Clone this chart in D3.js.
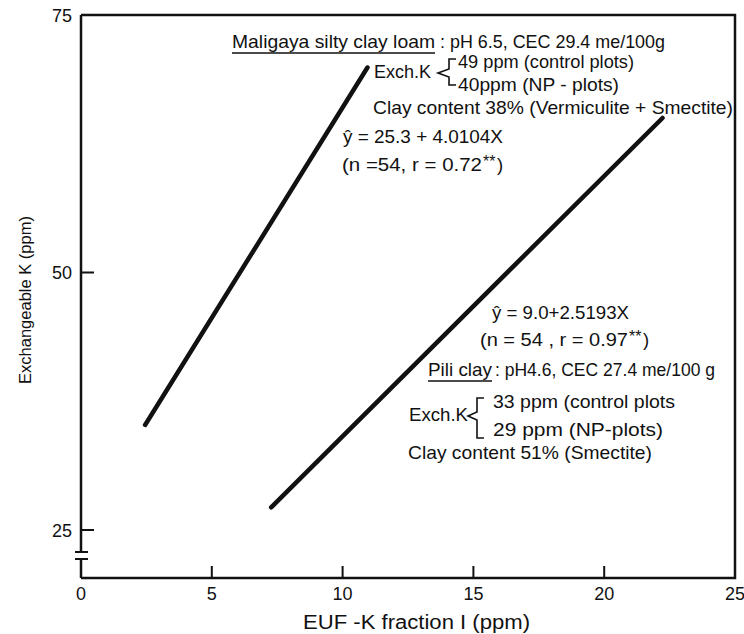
<!DOCTYPE html>
<html><head><meta charset="utf-8">
<script src="https://cdn.jsdelivr.net/npm/d3@7"></script>
<style>body{margin:0;background:#fff}text{font-family:"Liberation Sans",Arial,sans-serif;fill:#111}</style>
</head><body><svg id="c" width="744" height="634"></svg>
<script>
// Data
const xTicks = [0, 5, 10, 15, 20, 25];
const yTicks = [25, 50, 75];
const maligaya = [[2.45, 35.2], [10.95, 69.9]];
const pili = [[7.27, 27.2], [22.23, 65.0]];
const xLabel = "EUF -K fraction I (ppm)";
const yLabel = "Exchangeable K (ppm)";

const svg = d3.select("#c");
const x = d3.scaleLinear().domain([0, 25]).range([81, 735]);
const y = d3.scaleLinear().domain([25, 75]).range([530, 15]);
const yBottom = 578, yTop = 15;

const g = svg.append("g");
// frame (top, right, bottom)
g.append("path").attr("d", `M${x(0)},${yTop}H${x(25)}V${yBottom}H${x(0)}`)
  .attr("fill", "none").attr("stroke", "#111").attr("stroke-width", 2.5);
// y axis with break
g.append("path").attr("d", `M${x(0)},${yTop}V552M${x(0)},559V${yBottom}`)
  .attr("fill", "none").attr("stroke", "#111").attr("stroke-width", 2.5);
g.append("path").attr("d", `M75,552H88M75,559H88`).attr("stroke", "#111").attr("stroke-width", 2);

// y ticks (inward)
g.selectAll(".yt").data(yTicks.filter(d => d < 75)).join("line")
  .attr("x1", x(0)).attr("x2", x(0) + 13).attr("y1", d => y(d)).attr("y2", d => y(d))
  .attr("stroke", "#111").attr("stroke-width", 2);
g.selectAll(".yl").data(yTicks).join("text")
  .attr("x", 72).attr("y", d => y(d) + 6.5).attr("text-anchor", "end")
  .attr("font-size", 18).text(d => d);
// x ticks (inward)
g.selectAll(".xt").data(xTicks.filter(d => d > 0 && d < 25)).join("line")
  .attr("x1", d => x(d)).attr("x2", d => x(d)).attr("y1", yBottom).attr("y2", yBottom - 12)
  .attr("stroke", "#111").attr("stroke-width", 2);
g.selectAll(".xl").data(xTicks).join("text")
  .attr("x", d => x(d)).attr("y", 599.5).attr("text-anchor", "middle")
  .attr("font-size", 18).text(d => d);

// axis labels
g.append("text").attr("x", 303).attr("y", 629)
  .attr("font-size", 19.5).attr("textLength", 227).attr("lengthAdjust", "spacingAndGlyphs").text(xLabel);
g.append("text").attr("transform", "translate(31,300) rotate(-90)").attr("text-anchor", "middle")
  .attr("font-size", 16.5).text(yLabel);

// regression lines
const line = d3.line().x(d => x(d[0])).y(d => y(d[1]));
[maligaya, pili].forEach(d => g.append("path").attr("d", line(d))
  .attr("fill", "none").attr("stroke", "#111").attr("stroke-width", 4.5).attr("stroke-linecap", "round"));

// annotations
function txt(xp, yp, s, w) {
  const t = g.append("text").attr("x", xp).attr("y", yp).attr("font-size", 18.5).text(s);
  if (w) t.attr("textLength", w).attr("lengthAdjust", "spacingAndGlyphs");
  return t;
}
function underlineText(xp, yp, s, w) {
  txt(xp, yp, s, w);
  g.append("line").attr("x1", xp).attr("x2", xp + w).attr("y1", yp + 5).attr("y2", yp + 5)
    .attr("stroke", "#111").attr("stroke-width", 1.5);
}
function brace(px, py, vx, top, bot, ex) {
  g.append("path").attr("d", `M${ex},${top}H${vx}V${py - 4}L${px},${py}L${vx},${py + 4}V${bot}H${ex}`)
    .attr("fill", "none").attr("stroke", "#111").attr("stroke-width", 1.6);
}
function stat(xp, yp, pre, w) {
  txt(xp, yp, pre, w);
  g.append("text").attr("x", xp + w + 1).attr("y", yp - 4).attr("font-size", 16).text("**");
  g.append("text").attr("x", xp + w + 15).attr("y", yp).attr("font-size", 18.5).text(")");
}

// Maligaya block
underlineText(232, 48, "Maligaya silty clay loam", 203);
txt(440, 48, ": pH 6.5, CEC 29.4 me/100g", 225);
txt(374, 78, "Exch.K", 57);
brace(438, 73, 449, 59, 85, 456);
txt(458, 68, "49 ppm (control plots)", 176);
txt(458, 91, "40ppm (NP - plots)", 161);
txt(373, 114, "Clay content 38% (Vermiculite + Smectite)", 360);
txt(343, 143, "ŷ = 25.3 + 4.0104X", 160);
stat(342, 171, "(n =54, r = 0.72", 140);

// Pili block
txt(492, 319, "ŷ = 9.0+2.5193X", 137);
stat(480, 346, "(n = 54 , r = 0.97", 148);
underlineText(428, 376, "Pili clay", 64);
txt(495, 376, ": pH4.6, CEC 27.4 me/100 g", 220);
txt(409, 421, "Exch.K", 59);
brace(468, 416, 477, 398, 438, 484);
txt(493, 408, "33 ppm (control plots", 182);
txt(493, 436, "29 ppm (NP-plots)", 170);
txt(408, 459, "Clay content 51% (Smectite)", 244);
</script></body></html>
